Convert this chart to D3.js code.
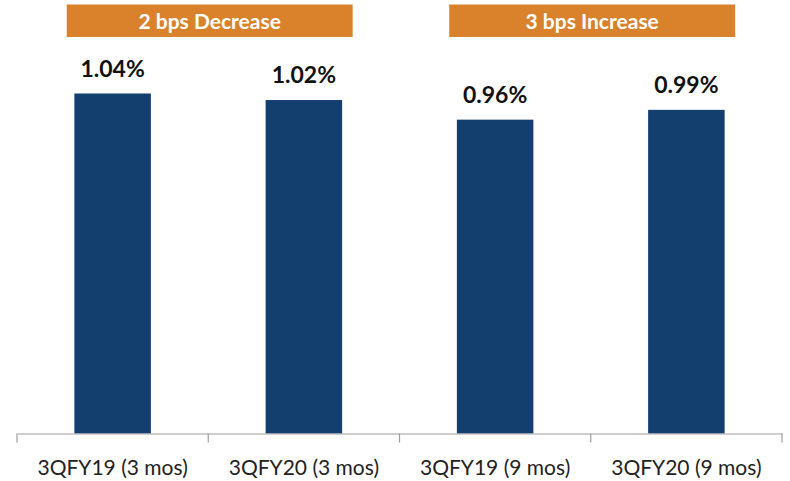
<!DOCTYPE html>
<html>
<head>
<meta charset="utf-8">
<script src="https://cdn.jsdelivr.net/npm/d3@7"></script>
<style>
  body { margin: 0; background: #fff; }
  text { font-family: Lato, "Open Sans", sans-serif; }
</style>
</head>
<body>
<div id="app"></div>
<script>
// data
let categories = ["3QFY19 (3 mos)", "3QFY20 (3 mos)", "3QFY19 (9 mos)", "3QFY20 (9 mos)"]
let values = [1.04, 1.02, 0.96, 0.99]
let valueLabels = ["1.04%", "1.02%", "0.96%", "0.99%"]
let bannerText = ["2 bps Decrease", "3 bps Increase"]
let bannerFrom = [0, 2]
let bannerTo = [1, 3]

let width = 790
let height = 481

let svg = d3.select("#app").append("svg")
    .attr("width", width)
    .attr("height", height)

let x = d3.scaleBand()
    .domain(categories)
    .range([17, 782])
    .padding(0)

let y = d3.scaleLinear()
    .domain([0, 1.04])
    .range([433.5, 93.5])

let barW = x.bandwidth() * 0.4

// bars
svg.append("g")
    .selectAll("rect")
    .data(values)
    .enter().append("rect")
    .attr("x", (d, i) => x(categories[i]) + (x.bandwidth() - barW) / 2)
    .attr("y", d => y(d))
    .attr("width", barW)
    .attr("height", d => y(0) - y(d))
    .attr("fill", "#123f6e")

// value labels
svg.append("g")
    .selectAll("text")
    .data(values)
    .enter().append("text")
    .attr("x", (d, i) => x(categories[i]) + x.bandwidth() / 2)
    .attr("y", d => y(d) - 17)
    .attr("text-anchor", "middle")
    .attr("font-weight", "bold")
    .attr("font-size", 23)
    .attr("fill", "#111")
    .text((d, i) => valueLabels[i])

// x axis
let axis = svg.append("g")
    .attr("transform", "translate(0," + y(0) + ")")
    .call(d3.axisBottom(x).tickSize(0).tickPadding(0))

axis.select(".domain").attr("stroke", "#a0a0a0").attr("stroke-width", 1.2)
axis.selectAll(".tick text").remove()

let bounds = categories.map(c => x(c)).concat([x.range()[1]])
axis.selectAll("line.edge")
    .data(bounds)
    .enter().append("line")
    .attr("class", "edge")
    .attr("x1", d => d).attr("x2", d => d)
    .attr("y1", 0).attr("y2", 9)
    .attr("stroke", "#a0a0a0")
    .attr("stroke-width", 1.2)

axis.selectAll("text.cat")
    .data(categories)
    .enter().append("text")
    .attr("class", "cat")
    .attr("x", d => x(d) + x.bandwidth() / 2)
    .attr("y", 41)
    .attr("text-anchor", "middle")
    .attr("font-size", 21)
    .attr("fill", "#222")
    .text(d => d)

// banners
let step = x.step()
let bLeft = i => x(categories[bannerFrom[i]]) + step * 0.26
let bRight = i => x(categories[bannerTo[i]]) + step * 0.755

let banners = svg.append("g")
    .selectAll("g")
    .data(bannerText)
    .enter().append("g")

banners.append("rect")
    .attr("x", (d, i) => bLeft(i))
    .attr("y", 4.5)
    .attr("width", (d, i) => bRight(i) - bLeft(i))
    .attr("height", 32.5)
    .attr("fill", "#d9822b")

banners.append("text")
    .attr("x", (d, i) => (bLeft(i) + bRight(i)) / 2)
    .attr("y", 28.5)
    .attr("text-anchor", "middle")
    .attr("font-weight", "bold")
    .attr("font-size", 21)
    .attr("fill", "#fff")
    .text(d => d)
</script>
</body>
</html>
